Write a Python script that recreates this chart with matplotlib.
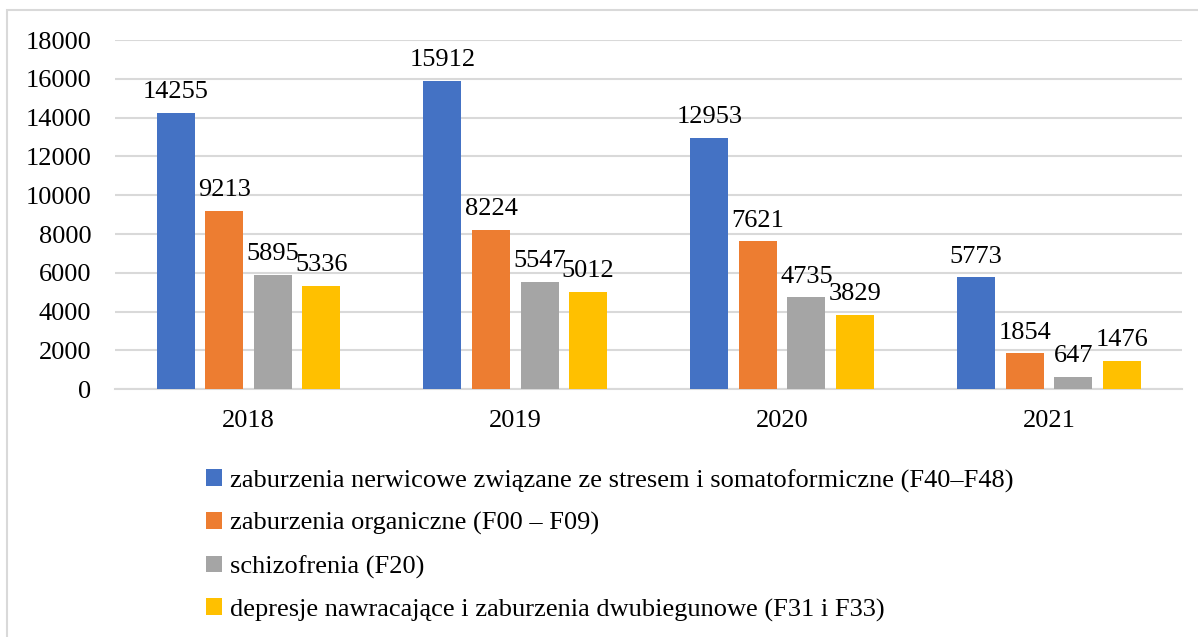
import matplotlib.pyplot as plt
import matplotlib.patches as mpatches
import numpy as np

years = ['2018', '2019', '2020', '2021']
nerwicowe = [14255, 15912, 12953, 5773]
organiczne = [9213, 8224, 7621, 1854]
schizofrenia = [5895, 5547, 4735, 647]
depresje = [5336, 5012, 3829, 1476]

series = [nerwicowe, organiczne, schizofrenia, depresje]
names = ['zaburzenia nerwicowe związane ze stresem i somatoformiczne (F40–F48)',
         'zaburzenia organiczne (F00 – F09)',
         'schizofrenia (F20)',
         'depresje nawracające i zaburzenia dwubiegunowe (F31 i F33)']
colors = ['#4472C4', '#ED7D31', '#A5A5A5', '#FFC000']

plt.rcParams['font.family'] = ['Liberation Serif', 'DejaVu Serif']

fig = plt.figure(figsize=(11.98, 6.37), dpi=100)
ax = fig.add_axes([0.096, 0.389, 0.891, 0.548])

x = np.arange(len(years))
w = 0.142
pitch = 0.182
for i, (vals, col) in enumerate(zip(series, colors)):
    pos = x + (i - 1.5) * pitch
    bars = ax.bar(pos, vals, w, color=col, label=names[i], zorder=3)
    for b, v in zip(bars, vals):
        ax.annotate(str(v), (b.get_x() + b.get_width() / 2, v),
                    xytext=(0, 7), textcoords='offset points',
                    ha='center', va='bottom', fontsize=19)

ax.set_xlim(-0.5, 3.5)
ax.set_ylim(0, 18000)
ax.set_yticks(range(0, 18001, 2000))
ax.set_xticks(x)
ax.set_xticklabels(years)
ax.tick_params(axis='both', length=0, labelsize=19)
ax.tick_params(axis='y', pad=17)
ax.tick_params(axis='x', pad=15)
ax.yaxis.grid(True, color='#d9d9d9', linewidth=1.5, zorder=0)
for s in ['top', 'right', 'left']:
    ax.spines[s].set_visible(False)
ax.spines['bottom'].set_color('#d9d9d9')
ax.spines['bottom'].set_linewidth(1.5)

leg = fig.legend(loc='upper left', bbox_to_anchor=(0.163, 0.28), frameon=False,
                 fontsize=19, handlelength=0.6, handleheight=0.6, handletextpad=0.3,
                 labelspacing=0.75, borderaxespad=0)

fig.patches.append(mpatches.Rectangle((7 / 1198, -0.01), 1.2, 1 - 10 / 637 + 0.01,
                                      transform=fig.transFigure, fill=False,
                                      edgecolor='#d9d9d9', linewidth=1.5))

fig.savefig('out.png', dpi=100)
